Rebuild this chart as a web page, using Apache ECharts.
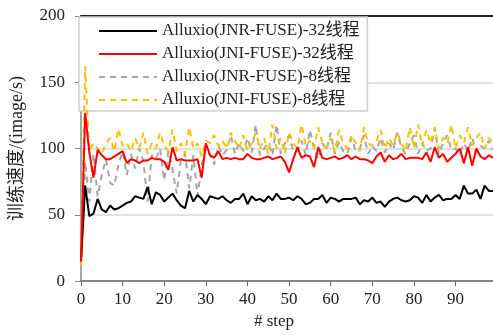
<!DOCTYPE html>
<html>
<head>
<meta charset="utf-8">
<script src="https://cdn.jsdelivr.net/npm/echarts@6/dist/echarts.min.js"></script>
<style>
  html, body { margin: 0; padding: 0; background: #fff; }
  #chart { width: 493px; height: 335px; }
</style>
</head>
<body>
<div id="chart"></div>
<script>
var FONT = '"Liberation Serif", "Noto Sans CJK SC", serif';

var seriesNames = [
  'Alluxio(JNR-FUSE)-32线程',
  'Alluxio(JNI-FUSE)-32线程',
  'Alluxio(JNR-FUSE)-8线程',
  'Alluxio(JNI-FUSE)-8线程'
];

// steps 0..99
var jnr32 = [15, 72, 49, 51, 62, 54, 52, 57, 54, 55, 57, 59, 60, 64, 63, 62, 71, 58, 67, 65,
  60, 63, 66, 61, 57, 55, 68, 60, 65, 62, 58, 64, 63, 62, 64, 61, 59, 62, 62, 66,
  58, 64, 61, 62, 60, 64, 61, 66, 62, 62, 63, 61, 64, 62, 58, 59, 62, 62, 65, 59,
  63, 62, 60, 62, 62, 62, 63, 58, 61, 60, 63, 59, 60, 56, 60, 62, 63, 61, 60, 61,
  64, 63, 59, 65, 60, 63, 65, 61, 62, 62, 65, 62, 72, 66, 66, 69, 62, 72, 68, 68];

var jni32 = [15, 127, 97, 78, 99, 95, 92, 92, 94, 96, 98, 89, 92, 91, 89, 91, 91, 93, 92, 92,
  90, 84, 101, 91, 92, 91, 91, 91, 92, 78, 104, 95, 93, 98, 92, 93, 92, 93, 92, 92,
  96, 93, 92, 92, 93, 94, 92, 93, 94, 90, 82, 92, 101, 93, 95, 94, 86, 101, 93, 92,
  93, 94, 92, 93, 95, 92, 94, 92, 92, 91, 89, 94, 97, 90, 95, 92, 93, 96, 92, 93,
  93, 93, 92, 97, 90, 101, 93, 96, 90, 93, 96, 100, 89, 101, 87, 100, 94, 92, 95, 93];

var jnr8 = [10, 90, 60, 96, 64, 80, 92, 74, 72, 88, 98, 80, 96, 85, 100, 90, 60, 95, 92, 100,
  76, 98, 84, 66, 92, 96, 70, 95, 64, 88, 100, 95, 88, 102, 95, 99, 110, 96, 104, 98,
  108, 97, 118, 95, 100, 104, 95, 118, 96, 104, 110, 98, 98, 106, 95, 114, 100, 92, 104, 99,
  112, 96, 105, 98, 96, 108, 98, 100, 110, 96, 102, 98, 108, 97, 104, 99, 112, 101, 96, 104,
  110, 96, 104, 98, 100, 115, 96, 104, 110, 99, 100, 96, 104, 98, 108, 97, 102, 100, 106, 99];

var jni8 = [12, 162, 98, 104, 100, 96, 104, 108, 98, 115, 102, 104, 98, 108, 100, 112, 96, 104, 100, 112,
  102, 98, 114, 98, 104, 96, 116, 100, 104, 94, 106, 104, 110, 102, 106, 100, 112, 106, 100, 110,
  98, 104, 112, 100, 108, 96, 118, 100, 108, 96, 112, 104, 100, 118, 102, 106, 100, 116, 104, 100,
  108, 98, 114, 104, 100, 110, 104, 98, 116, 104, 102, 106, 114, 100, 108, 102, 112, 104, 98, 116,
  100, 118, 102, 114, 104, 116, 100, 108, 104, 118, 100, 110, 104, 116, 102, 108, 112, 100, 108, 104];

var yTicks = [0, 50, 100, 150, 200];
var xTicks = [0, 10, 20, 30, 40, 50, 60, 70, 80, 90];

function pairs(arr) {
  return arr.map(function (v, i) { return [i, v]; });
}

var chart = echarts.init(document.getElementById('chart'));

var option = {
  animation: false,
  backgroundColor: '#fff',
  grid: { left: 80, right: 0, top: 16, bottom: 52, containLabel: false },
  legend: {
    orient: 'vertical',
    left: 79,
    top: 17,
    itemWidth: 58,
    itemHeight: 14,
    itemGap: 3,
    padding: [4, 8, 1, 19],
    backgroundColor: '#fff',
    borderColor: '#d0d0d0',
    borderWidth: 1.5,
    z: 4,
    itemStyle: { opacity: 0 },
    data: seriesNames,
    textStyle: { fontFamily: FONT, fontSize: 17, color: '#222', lineHeight: 20 }
  },
  xAxis: [{
    type: 'value',
    min: 0,
    max: 99,
    interval: 10,
    name: '# step',
    nameLocation: 'middle',
    nameGap: 31,
    nameTextStyle: { fontFamily: FONT, fontSize: 17, color: '#222', padding: [0, 26, 0, 0] },
    axisLine: { show: true, lineStyle: { color: '#666', width: 1.5 } },
    axisTick: { show: true, length: 5, lineStyle: { color: '#666' } },
    axisLabel: {
      fontFamily: FONT, fontSize: 17, color: '#222', margin: 10, showMaxLabel: false,
      formatter: function (v) { return xTicks.indexOf(v) >= 0 ? String(v) : ''; }
    },
    splitLine: { show: false }
  }, {
    type: 'value',
    position: 'top',
    min: 0,
    max: 99,
    axisLine: { show: true, onZero: false, lineStyle: { color: '#222', width: 2 } },
    axisTick: { show: false },
    axisLabel: { show: false },
    splitLine: { show: false }
  }],
  yAxis: {
    type: 'value',
    min: yTicks[0],
    max: yTicks[yTicks.length - 1],
    interval: 50,
    name: '训练速度/(image/s)',
    nameLocation: 'middle',
    nameRotate: 90,
    nameGap: 55,
    nameTextStyle: { fontFamily: FONT, fontSize: 18, color: '#222' },
    axisLine: { show: true, lineStyle: { color: '#888', width: 1.5 } },
    axisTick: { show: true, length: 6, lineStyle: { color: '#888' } },
    axisLabel: { fontFamily: FONT, fontSize: 17, color: '#222', margin: 16 },
    splitLine: { show: true, lineStyle: { color: '#d9d9d9', width: 1.5 } }
  },
  series: [
    {
      name: seriesNames[0], type: 'line', data: pairs(jnr32), symbol: 'none', z: 6,
      lineStyle: { color: '#000', width: 2 }, itemStyle: { color: '#000' }
    },
    {
      name: seriesNames[1], type: 'line', data: pairs(jni32), symbol: 'none', z: 6,
      lineStyle: { color: '#ff0000', width: 2 }, itemStyle: { color: '#ff0000' }
    },
    {
      name: seriesNames[2], type: 'line', data: pairs(jnr8), symbol: 'none', z: 5,
      lineStyle: { color: '#a6a6a6', width: 2, type: [6, 5] }, itemStyle: { color: '#a6a6a6' }
    },
    {
      name: seriesNames[3], type: 'line', data: pairs(jni8), symbol: 'none', z: 5,
      lineStyle: { color: '#ffc000', width: 2, type: [6, 5] }, itemStyle: { color: '#ffc000' }
    }
  ]
};

chart.setOption(option);
</script>
</body>
</html>
